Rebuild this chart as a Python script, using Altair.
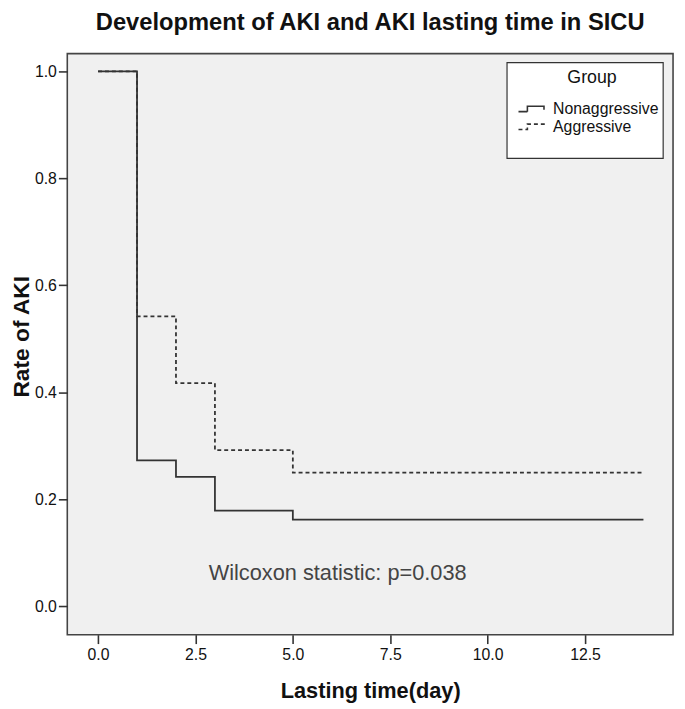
import altair as alt
import pandas as pd

# ---- data ----
days_non = [0, 1, 2, 3, 5, 14]
rate_non = [1.0, 0.273, 0.242, 0.179, 0.162, 0.162]
days_agg = [0, 1, 2, 3, 5, 14]
rate_agg = [1.0, 0.542, 0.417, 0.292, 0.250, 0.250]
groups = ["Nonaggressive", "Aggressive"]
x_ticks = [0, 2.5, 5, 7.5, 10, 12.5]
y_ticks = [0.0, 0.2, 0.4, 0.6, 0.8, 1.0]
note_text = ["Wilcoxon statistic: p=0.038"]
note_x = [2.84]
note_y = [0.05]

df = pd.DataFrame({
    "day": days_non + days_agg,
    "rate": rate_non + rate_agg,
    "group": [groups[0]] * len(days_non) + [groups[1]] * len(days_agg),
})
note_df = pd.DataFrame({"x": note_x, "y": note_y, "t": note_text})

FONT = "Liberation Sans"
xscale = alt.Scale(domain=[-0.79, 14.76], nice=False, zero=False)
yscale = alt.Scale(domain=[-0.053, 1.033], nice=False, zero=False)

step_path = "M-2.4,0.45H-0.9V-0.45H1.9V0.15"

lines = alt.Chart(df).mark_line(interpolate="step-after", strokeWidth=1.8, color="#333333").encode(
    x=alt.X("day:Q", scale=xscale,
            axis=alt.Axis(values=x_ticks, format=".1f", title="Lasting time(day)",
                          titleY=64, titleBaseline="alphabetic")),
    y=alt.Y("rate:Q", scale=yscale,
            axis=alt.Axis(values=y_ticks, format=".1f", title="Rate of AKI",
                          titleX=-39, titleY=286, titleBaseline="alphabetic",
                          titleFontSize=23)),
    strokeDash=alt.StrokeDash(
        "group:N",
        scale=alt.Scale(domain=groups, range=[[1, 0], [4, 3]]),
        legend=alt.Legend(
            title="Group", orient="none", legendX=463, legendY=16,
            titleAnchor="middle", titleFont=FONT, titleFontSize=18,
            titleFontWeight="normal", titleColor="#111111", titlePadding=14,
            labelFont=FONT, labelFontSize=16, labelColor="#111111",
            labelOffset=12.6, rowPadding=2,
            symbolType=step_path, symbolSize=144, symbolStrokeColor="#333333",
            symbolStrokeWidth=1.6, symbolFillColor="transparent",
        ),
    ),
)

box = alt.Chart(note_df).mark_rect(fill="white", stroke="#333333", strokeWidth=1.2).encode(
    x=alt.value(445), x2=alt.value(603), y=alt.value(9), y2=alt.value(106)
)

note = alt.Chart(note_df).mark_text(
    align="left", baseline="alphabetic", font=FONT, fontSize=22, color="#444444"
).encode(x=alt.X("x:Q", scale=xscale), y=alt.Y("y:Q", scale=yscale), text="t:N")

chart = alt.layer(box, note, lines).properties(
    width=613, height=588,
    title=alt.TitleParams("Development of AKI and AKI lasting time in SICU",
                          font=FONT, fontSize=24, fontWeight="bold", color="#111111",
                          anchor="middle", baseline="alphabetic", offset=0, frame="group"),
    autosize=alt.AutoSizeParams(type="none"),
    padding={"left": 60, "top": 42, "right": 4, "bottom": 70},
).configure_view(
    fill="#f0f0f0", stroke="#444444", strokeWidth=1.6
).configure_axis(
    domain=False, grid=False, ticks=True, tickSize=9, tickWidth=1.6, tickColor="#333333",
    labelFont=FONT, labelFontSize=16, labelColor="#111111", labelPadding=3,
    titleFont=FONT, titleFontSize=22, titleFontWeight="bold", titleColor="#111111",
).configure_axisY(labelPadding=2)

chart.save("out.html", embed_options={"renderer": "svg", "actions": False})
